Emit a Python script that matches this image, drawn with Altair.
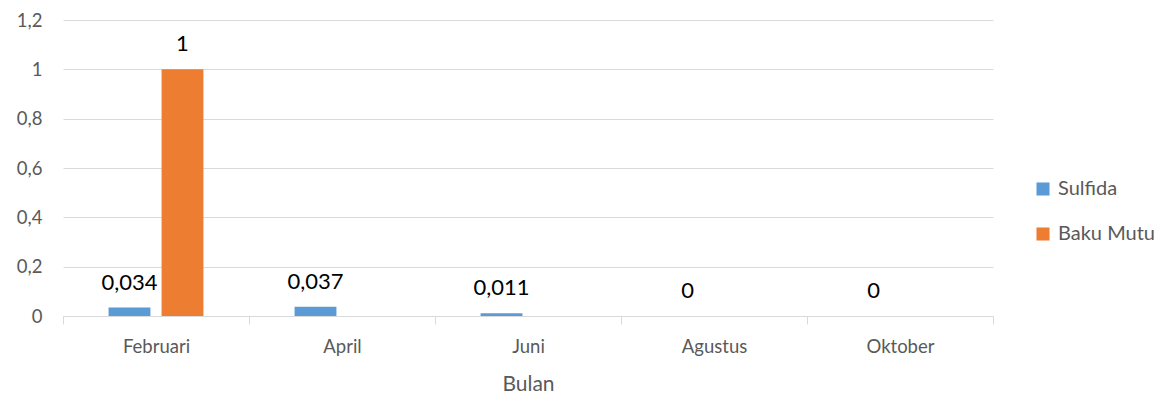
import altair as alt
import pandas as pd

months = ["Februari", "April", "Juni", "Agustus", "Oktober"]
sulfida = [0.034, 0.037, 0.011, 0, 0]
baku_mutu = [1, None, None, None, None]
series = ["Sulfida", "Baku Mutu"]
colors = ["#5B9BD5", "#ED7D31"]
y_ticks = [0, 0.2, 0.4, 0.6, 0.8, 1.0, 1.2]

rows = []
for m, s, b in zip(months, sulfida, baku_mutu):
    rows.append({"Bulan": m, "Seri": "Sulfida", "Nilai": s})
    rows.append({"Bulan": m, "Seri": "Baku Mutu", "Nilai": b})
df = pd.DataFrame(rows)

FONT = "Lato"
GRAY = "#595959"

x = alt.X("Bulan:N", sort=months, title="Bulan",
          scale=alt.Scale(paddingInner=0, paddingOuter=0),
          axis=alt.Axis(labelAngle=0, tickBand="extent", tickSize=8,
                        tickColor="#d9d9d9", domainColor="#d9d9d9",
                        labelColor=GRAY, labelFontSize=18.5, labelFont=FONT,
                        labelPadding=13, titleFontSize=21, titleFont=FONT,
                        titleColor=GRAY, titleFontWeight="normal",
                        titlePadding=18, grid=False))
xoff = alt.XOffset("Seri:N", sort=series,
                   scale=alt.Scale(paddingInner=0.21, paddingOuter=0.86))
y = alt.Y("Nilai:Q", title=None,
          scale=alt.Scale(domain=[0, 1.2], nice=False),
          axis=alt.Axis(values=y_ticks,
                        labelExpr="replace(format(datum.value, '~g'), '.', ',')",
                        domain=False, ticks=False, gridColor="#d9d9d9",
                        labelColor=GRAY, labelFontSize=18.5, labelFont=FONT,
                        labelPadding=21))
color = alt.Color("Seri:N", sort=series, title=None,
                  scale=alt.Scale(domain=series, range=colors),
                  legend=alt.Legend(orient="none", legendX=970, legendY=159,
                                    symbolType="square", symbolSize=170,
                                    symbolStrokeWidth=0, labelFontSize=20,
                                    labelFont=FONT, labelColor=GRAY,
                                    rowPadding=25, labelOffset=5))

bars = alt.Chart(df).mark_bar().encode(x=x, xOffset=xoff, y=y, color=color)

labels = alt.Chart(df).transform_filter("isValid(datum.Nilai)").transform_calculate(
    lbl="replace(toString(datum.Nilai), '.', ',')"
).mark_text(baseline="middle", dy=-25, fontSize=22, font=FONT, color="#000000").encode(
    x=alt.X("Bulan:N", sort=months), xOffset=alt.XOffset("Seri:N", sort=series),
    y="Nilai:Q", text="lbl:N")

chart = alt.layer(bars, labels).properties(
    width=930, height=296,
    autosize=alt.AutoSizeParams(type="none"),
    padding={"left": 55, "top": 12, "right": 168, "bottom": 79},
).configure_view(stroke=None)

chart.save("out.html", embed_options={"renderer": "svg", "actions": False})
